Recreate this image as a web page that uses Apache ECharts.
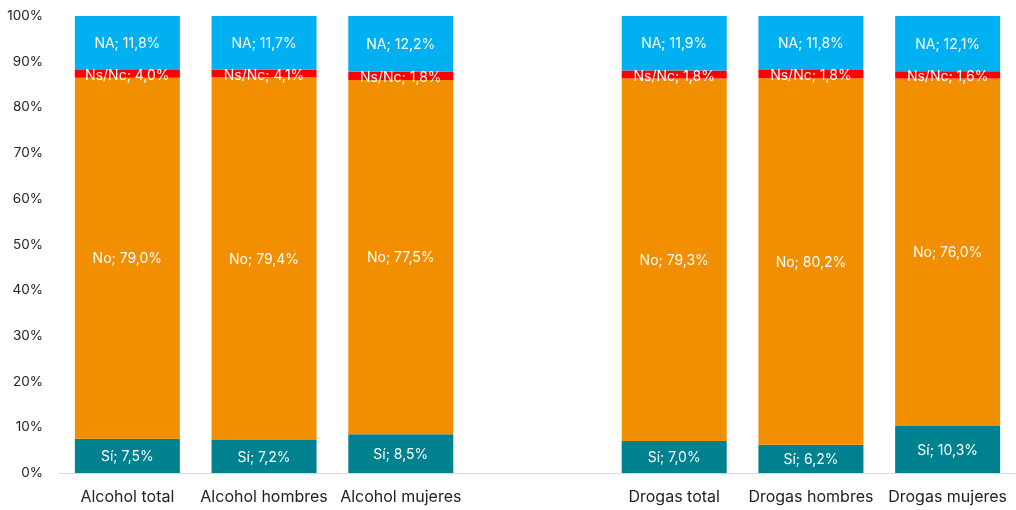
<!DOCTYPE html>
<html>
<head>
    <meta charset="utf-8">
    <title>Consumo alcohol y drogas</title>
    <script src="https://cdn.jsdelivr.net/npm/echarts@6/dist/echarts.min.js"></script>
    <style>
        html, body { margin: 0; padding: 0; background: #fff; }
        #chart { width: 1016px; height: 510px; }
    </style>
</head>
<body>
<div id="chart"></div>
<script type="text/javascript">
    // categorías (la vacía deja el hueco entre alcohol y drogas)
    var categories = ['Alcohol total', 'Alcohol hombres', 'Alcohol mujeres', '', 'Drogas total', 'Drogas hombres', 'Drogas mujeres'];

    // valores dibujados (%)
    var si   = [7.5, 7.2, 8.5, '-', 7.0, 6.2, 10.3];
    var no   = [79.0, 79.4, 77.5, '-', 79.3, 80.2, 76.0];
    var nsnc = [1.7, 1.7, 1.8, '-', 1.8, 1.8, 1.6];
    var na   = [11.8, 11.7, 12.2, '-', 11.9, 11.8, 12.1];

    // etiquetas de Ns/Nc tal como aparecen en el gráfico
    var nsncLabels = ['4,0', '4,1', '1,8', '', '1,8', '1,8', '1,6'];

    var yTicks = [0, 10, 20, 30, 40, 50, 60, 70, 80, 90, 100];

    var fontFam = 'Inter, "Open Sans", sans-serif';

    function fmt(v) {
        return v.toFixed(1).replace('.', ',');
    }

    function makeLabel(prefix, texts, dy) {
        return {
            show: true,
            position: 'inside',
            color: '#fff',
            fontSize: 14,
            fontFamily: fontFam,
            offset: [0, dy || 0],
            formatter: function (p) {
                if (p.value === '-' || p.value == null) return '';
                var t = texts ? texts[p.dataIndex] : fmt(p.value);
                return prefix + '; ' + t + '%';
            }
        };
    }

    var myChart = echarts.init(document.getElementById('chart'));

    myChart.setOption({
        animation: false,
        grid: {
            left: 59,
            right: 0,
            top: 16,
            bottom: 37
        },
        xAxis: {
            type: 'category',
            data: categories,
            axisTick: { show: false },
            axisLine: { lineStyle: { color: '#d9d9d9', width: 1 } },
            axisLabel: {
                color: '#222',
                fontSize: 16,
                fontFamily: fontFam,
                margin: 16,
                interval: 0
            }
        },
        yAxis: {
            type: 'value',
            min: yTicks[0],
            max: yTicks[yTicks.length - 1],
            interval: 10,
            splitLine: { show: false },
            axisLine: { show: false },
            axisTick: { show: false },
            axisLabel: {
                color: '#222',
                fontSize: 13.5,
                fontFamily: fontFam,
                margin: 16,
                formatter: '{value}%'
            }
        },
        series: [
            {
                name: 'Sí', type: 'bar', stack: 'total', barWidth: 105,
                data: si, itemStyle: { color: '#00818f' },
                label: makeLabel('Sí', null, 1)
            },
            {
                name: 'No', type: 'bar', stack: 'total', barWidth: 105,
                data: no, itemStyle: { color: '#f18f00' },
                label: makeLabel('No', null, 1)
            },
            {
                name: 'Ns/Nc', type: 'bar', stack: 'total', barWidth: 105,
                data: nsnc, itemStyle: { color: '#ff0000' },
                label: makeLabel('Ns/Nc', nsncLabels, 2)
            },
            {
                name: 'NA', type: 'bar', stack: 'total', barWidth: 105,
                data: na, itemStyle: { color: '#00b0f0' },
                label: makeLabel('NA', null, 1)
            }
        ]
    });
</script>
</body>
</html>
